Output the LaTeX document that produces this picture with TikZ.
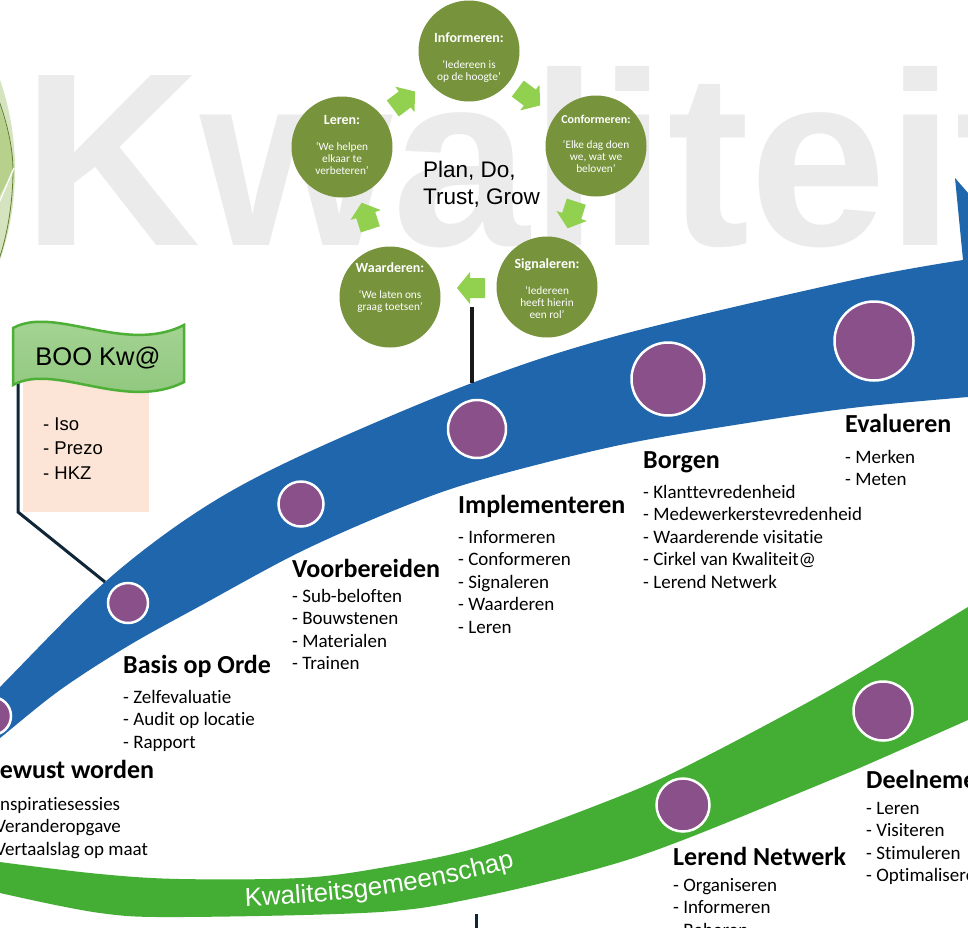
\documentclass[tikz,border=0pt]{standalone}
\usepackage{fontspec}
\setmainfont[Ligatures=NoCommon]{Carlito}
\newfontfamily\calfont[Ligatures=NoCommon]{Carlito}
\newfontfamily\arialfont{Liberation Sans}
\usetikzlibrary{decorations.text}
\definecolor{blueband}{HTML}{1F66AC}
\definecolor{greenband}{HTML}{44AD34}
\definecolor{dotpurple}{HTML}{89508A}
\definecolor{olive}{HTML}{77933C}
\definecolor{arrowgreen}{HTML}{92D050}
\definecolor{flagtop}{HTML}{A8D697}
\definecolor{flagbot}{HTML}{8CC57A}
\definecolor{flagline}{HTML}{4DAF36}
\definecolor{peach}{HTML}{FCE4D6}
\definecolor{wmgrey}{HTML}{EBEBEB}
\definecolor{navy}{HTML}{0E2637}
\definecolor{lgA}{HTML}{D5E4BE}
\definecolor{lgB}{HTML}{B7D08C}
\definecolor{lgC}{HTML}{5F7F2E}
\newcommand\cl[1]{\hbox to 0pt{\hss#1\hss}}
\tikzset{
  dotc/.style={circle, fill=dotpurple, draw=white, line width=2.5pt, inner sep=0pt, minimum size=#1},
  greencirc/.style={circle, fill=olive, inner sep=0pt, minimum size=101pt},
  head/.style={anchor=base west, inner sep=0pt, font=\calfont\bfseries\fontsize{26}{31}\selectfont},
  items/.style={anchor=base west, inner sep=0pt, font=\calfont\fontsize{19}{22.6}\selectfont},
  ctext/.style={anchor=base, inner sep=0pt, text=white, font=\calfont\fontsize{11.3}{12}\selectfont},
  conn/.style={draw=navy, line width=3pt},
  cyclearrow/.pic={\fill[arrowgreen] (-14,-10) -- (1,-10) -- (1,-16) -- (14,0) -- (1,16) -- (1,10) -- (-14,10) -- cycle;}
}
\begin{document}
\begin{tikzpicture}[x=1pt,y=-1pt]
\useasboundingbox (0,0) rectangle (968,927);
\clip (0,0) rectangle (968,927);
\fill[white] (0,0) rectangle (968,927);
% watermark
\node[anchor=base west, inner sep=0pt, text=wmgrey, font=\arialfont\bfseries\fontsize{247}{247}\selectfont] (wm) at (22,245) {Kwaliteit};
% left decoration
\fill[lgA] (-262,170) circle (277);
\fill[lgB] (-5,95) .. controls (6,120) and (12,145) .. (13,168) .. controls (8,180) .. (-5,205) -- cycle;
\draw[lgC, line width=0.8pt] (-2,98) .. controls (8,125) and (13,150) .. (13,170) .. controls (13,200) and (8,235) .. (-2,262);
\draw[white, line width=1.2pt] (14,168) .. controls (8,182) .. (-2,205);
% blue band
\fill[blueband] plot[smooth, tension=0.55] coordinates {(-40,727) (0,687) (105,582) (200,510) (300,456) (472,383) (620,335) (853,280) (963,260)}
  -- (955,178) -- (1070,310) -- (985,470) -- (975,396)
  -- plot[smooth, tension=0.55] coordinates {(968,397) (860,407) (760,421) (620,445) (480,480) (400,508) (300,552) (200,606) (128,646) (60,690) (0,738) (-40,770)} -- cycle;
% green band
\fill[greenband] plot[smooth, tension=0.55] coordinates {(-40,855) (0,862) (100,874) (180,879) (300,878) (380,868) (480,847) (600,804) (683,768) (830,690) (968,607) (1010,582)}
  -- plot[smooth, tension=0.55] coordinates {(1010,702) (968,720) (880,759) (833,779) (683,840) (600,868) (480,897) (380,912) (180,917) (100,913) (0,893) (-40,882)} -- cycle;
\path[decorate, decoration={text along path, text={|\arialfont\fontsize{26}{30}\selectfont|Kwaliteitsgemeenschap}, text color=white, text align=left}]
  (245,906) .. controls (340,903) and (450,891) .. (570,850);
% connectors
\coordinate (pole) at (18,383);
\coordinate (polefoot) at (18,512);
\coordinate (bandA) at (105,582);
\draw[conn, line join=miter] (pole) -- (polefoot) -- (bandA);
\coordinate (pdcafoot) at (472,307);
\coordinate (bandB) at (472,383);
\draw[draw=black!90, line width=3.5pt] (pdcafoot) -- (bandB);
\coordinate (gbot) at (476,914);
\coordinate (pageend) at (476,935);
\draw[conn] (gbot) -- (pageend);
% purple dots
\node[dotc=38pt] (bewust) at (-8,716) {};
\node[dotc=40pt] (basis) at (128,603) {};
\node[dotc=45pt] (voorb) at (301,504) {};
\node[dotc=58pt] (impl) at (477,429) {};
\node[dotc=73pt] (borgen) at (668,379) {};
\node[dotc=79pt] (eval) at (874,341) {};
\node[dotc=53pt] (lerend) at (683,805) {};
\node[dotc=59pt] (deel) at (883,711) {};
% PDCA circles
\node[greencirc] (inf) at (469,51) {};
\node[greencirc] (conf) at (596,146) {};
\node[greencirc] (sig) at (547,287) {};
\node[greencirc] (waar) at (390,297) {};
\node[greencirc] (leren) at (342,147) {};
\pic[rotate=37] at (404,100) {cyclearrow};
\pic[rotate=-37] at (529,97) {cyclearrow};
\pic[rotate=-108] at (572,215) {cyclearrow};
\pic[rotate=180] at (471,288) {cyclearrow};
\pic[rotate=108] at (366,216) {cyclearrow};
\node[ctext] (inf-t) at (469,42) {\vtop{\cl{\fontsize{14}{14}\selectfont\bfseries Informeren:}\vskip14pt\cl{‘Iedereen is}\cl{op de hoogte’}}};
\node[ctext] (conf-t) at (596,123) {\vtop{\cl{\fontsize{12}{12}\selectfont\bfseries Conformeren:}\vskip13pt\cl{‘Elke dag doen}\cl{we, wat we}\cl{beloven’}}};
\node[ctext] (sig-t) at (547,268) {\vtop{\cl{\fontsize{14}{14}\selectfont\bfseries Signaleren:}\vskip14pt\cl{‘Iedereen}\cl{heeft hierin}\cl{een rol’}}};
\node[ctext] (waar-t) at (390,272) {\vtop{\cl{\fontsize{14}{14}\selectfont\bfseries Waarderen:}\vskip14pt\cl{‘We laten ons}\cl{graag toetsen’}}};
\node[ctext] (leren-t) at (342,124) {\vtop{\cl{\fontsize{14}{14}\selectfont\bfseries Leren:}\vskip14pt\cl{‘We helpen}\cl{elkaar te}\cl{verbeteren’}}};
\node[anchor=base west, inner sep=0pt, font=\arialfont\fontsize{22.5}{27}\selectfont] (pdtg) at (423,177) {\vtop{\hbox{Plan, Do,}\hbox{Trust, Grow}}};
% flag
\fill[peach] (23,370) rectangle (149,512);
\draw[top color=flagtop, bottom color=flagbot, draw=flagline, line width=2.5pt] (13,328) .. controls (55,305) and (125,355) .. (184,325) -- (184,382) .. controls (125,412) and (55,362) .. (13,385) -- cycle;
\node[anchor=base, inner sep=0pt, font=\arialfont\fontsize{25.5}{30}\selectfont] (flag) at (98,365) {BOO Kw@};
\node[anchor=base west, inner sep=0pt, font=\arialfont\fontsize{18.5}{24.7}\selectfont] (boolist) at (43,430) {\vtop{\hbox{- Iso}\hbox{- Prezo}\hbox{- HKZ}}};
% stage labels
\node[head] (h-bewust) at (-15,778) {Bewust worden};
\node[items] (l-bewust) at (-15,810) {\vtop{\hbox{- Inspiratiesessies}\hbox{- Veranderopgave}\hbox{- Vertaalslag op maat}}};
\node[head] (h-basis) at (123,673) {Basis op Orde};
\node[items] (l-basis) at (123,703) {\vtop{\hbox{- Zelfevaluatie}\hbox{- Audit op locatie}\hbox{- Rapport}}};
\node[head] (h-voorb) at (292,577) {Voorbereiden};
\node[items] (l-voorb) at (292,602) {\vtop{\hbox{- Sub-beloften}\hbox{- Bouwstenen}\hbox{- Materialen}\hbox{- Trainen}}};
\node[head] (h-impl) at (458,513) {Implementeren};
\node[items] (l-impl) at (458,543) {\vtop{\hbox{- Informeren}\hbox{- Conformeren}\hbox{- Signaleren}\hbox{- Waarderen}\hbox{- Leren}}};
\node[head] (h-borgen) at (643,468) {Borgen};
\node[items] (l-borgen) at (643,498) {\vtop{\hbox{- Klanttevredenheid}\hbox{- Medewerkerstevredenheid}\hbox{- Waarderende visitatie}\hbox{- Cirkel van Kwaliteit@}\hbox{- Lerend Netwerk}}};
\node[head] (h-eval) at (845,432) {Evalueren};
\node[items] (l-eval) at (845,463) {\vtop{\hbox{- Merken}\hbox{- Meten}}};
\node[head] (h-lerend) at (673,865) {Lerend Netwerk};
\node[items] (l-lerend) at (673,891) {\vtop{\hbox{- Organiseren}\hbox{- Informeren}\hbox{- Beheren}}};
\node[head] (h-deel) at (866,788) {Deelnemen};
\node[items] (l-deel) at (866,814) {\vtop{\hbox{- Leren}\hbox{- Visiteren}\hbox{- Stimuleren}\hbox{- Optimaliseren}}};
\end{tikzpicture}
\end{document}
